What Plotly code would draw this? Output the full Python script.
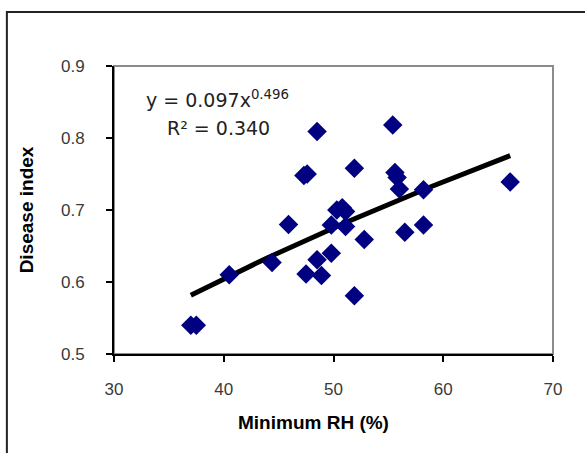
import numpy as np
import plotly.graph_objects as go

# Minimum relative humidity (%) and disease index per site
min_rh = [37.0, 37.5, 40.5, 44.4, 45.9, 47.3, 47.6, 48.5, 47.5, 48.5, 48.9, 49.8,
          49.8, 50.3, 50.8, 51.1, 51.1, 51.9, 51.9, 52.8, 55.4, 55.6, 55.8, 56.0,
          56.5, 58.2, 58.2, 66.1]
disease_index = [0.540, 0.540, 0.610, 0.627, 0.680, 0.748, 0.750, 0.809, 0.611, 0.631,
                 0.609, 0.640, 0.679, 0.700, 0.703, 0.698, 0.677, 0.758, 0.581, 0.659,
                 0.818, 0.752, 0.745, 0.729, 0.669, 0.728, 0.679, 0.739]

# Power trend line y = a * x^b
fit_a = 0.097
fit_b = 0.496
fit_r2 = 0.340

x_ticks = [30, 40, 50, 60, 70]
y_ticks = [0.5, 0.6, 0.7, 0.8, 0.9]

xf = np.linspace(min(min_rh), max(min_rh), 100)
yf = fit_a * xf ** fit_b

tick_font = dict(family="Liberation Sans, Arial, sans-serif", size=17, color="#3a3a3a")
title_font = dict(family="Liberation Sans, Arial, sans-serif", size=19, color="black")
eq_font = dict(family="DejaVu Sans, sans-serif", size=19, color="#222")

fig = go.Figure()
fig.add_trace(go.Scatter(x=xf, y=yf, mode="lines",
                         line=dict(color="black", width=5), hoverinfo="skip"))
fig.add_trace(go.Scatter(x=min_rh, y=disease_index, mode="markers",
                         marker=dict(symbol="diamond", size=15, color="#000080",
                                     line=dict(width=0))))

fig.update_layout(
    width=585, height=453,
    margin=dict(l=114, r=32, t=66, b=99),
    paper_bgcolor="white", plot_bgcolor="white",
    showlegend=False,
    xaxis=dict(range=[30, 70], tickvals=x_ticks, ticktext=[str(v) for v in x_ticks],
               showgrid=False, zeroline=False,
               showline=True, linecolor="black", linewidth=2,
               ticks="outside", ticklen=6, tickwidth=1.5, tickcolor="black",
               ticklabelstandoff=13, tickfont=tick_font),
    yaxis=dict(range=[0.5, 0.9], tickvals=y_ticks, ticktext=[f"{v:.1f}" for v in y_ticks],
               showgrid=False, zeroline=False,
               showline=True, linecolor="black", linewidth=2,
               ticks="outside", ticklen=6, tickwidth=1.5, tickcolor="black",
               ticklabelstandoff=18, tickfont=tick_font,
               title=dict(text="<b>Disease index</b>", font=title_font, standoff=22)),
    shapes=[
        # plot-area frame (grey top and right edges)
        dict(type="rect", xref="paper", yref="paper", x0=0, y0=0, x1=1, y1=1,
             line=dict(color="#8c8c8c", width=2), layer="below"),
        # outer chart border
        dict(type="rect", xref="paper", yref="paper", x0=-0.244, y0=-0.40, x1=1.25, y1=1.1875,
             line=dict(color="#222222", width=2), layer="below"),
    ],
    annotations=[
        # x-axis title
        dict(xref="paper", yref="paper", x=0.455, y=-0.238, xanchor="center", yanchor="middle",
             text="<b>Minimum RH (%)</b>", showarrow=False, font=title_font),
        dict(xref="paper", yref="paper", x=0.068, y=0.885, xanchor="left", yanchor="middle",
             text=f"y = {fit_a:.3f}x<sup>{fit_b:.3f}</sup>", showarrow=False, font=eq_font),
        dict(xref="paper", yref="paper", x=0.116, y=0.785, xanchor="left", yanchor="middle",
             text=f"R² = {fit_r2:.3f}", showarrow=False, font=eq_font),
    ],
)

fig.write_html("out.html")
